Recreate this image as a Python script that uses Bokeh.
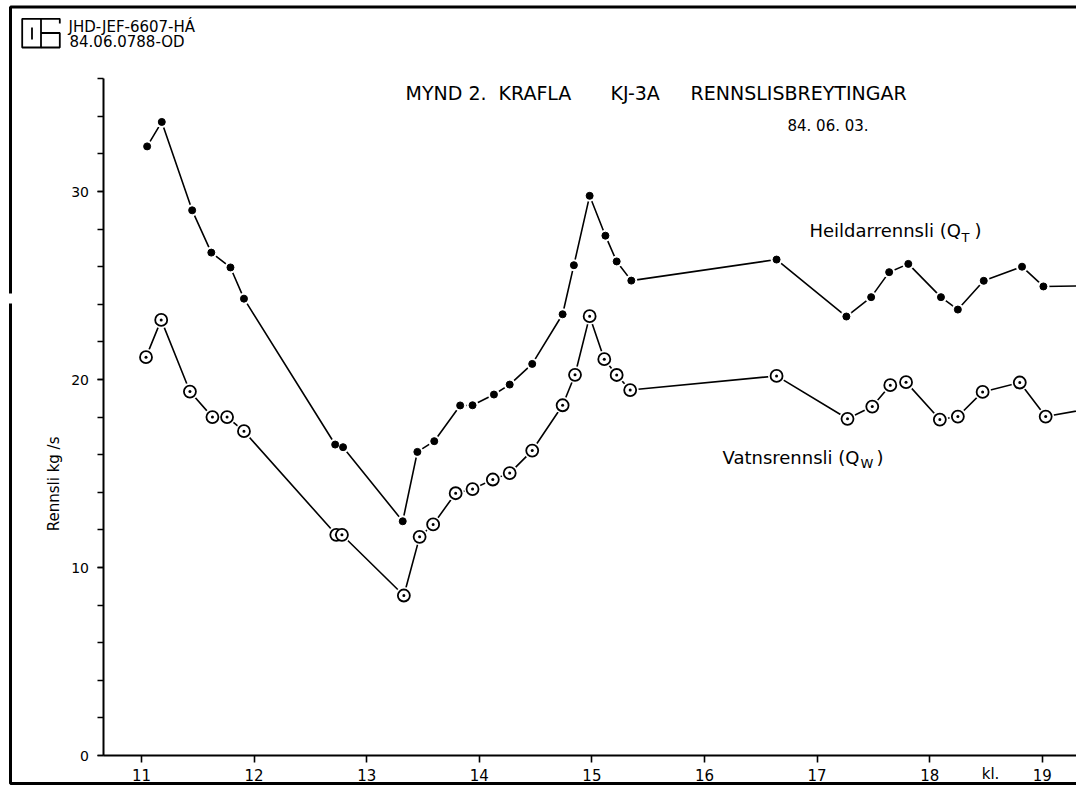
from bokeh.plotting import figure
from bokeh.models import (Range1d, FixedTicker, SingleIntervalTicker, Label,
                          PolyAnnotation, ColumnDataSource)
from bokeh.embed import file_html
from bokeh.resources import INLINE

# ---------------- data ----------------
x_ticks = [11, 12, 13, 14, 15, 16, 17, 18, 19]

hours_total = [11.05, 11.18, 11.45, 11.62, 11.79, 11.91, 12.72, 12.79, 13.32,
               13.45, 13.60, 13.83, 13.94, 14.13, 14.27, 14.47, 14.74, 14.84,
               14.98, 15.12, 15.22, 15.35, 16.64, 17.26, 17.48, 17.64, 17.81,
               18.10, 18.25, 18.48, 18.82, 19.01, 19.60]
flow_total = [32.4, 33.7, 29.0, 26.75, 25.96, 24.3, 16.54, 16.4, 12.46,
              16.15, 16.72, 18.62, 18.63, 19.2, 19.73, 20.83, 23.47, 26.08,
              29.77, 27.65, 26.28, 25.26, 26.38, 23.35, 24.38, 25.71, 26.15,
              24.38, 23.72, 25.25, 26.0, 24.95, 25.0]

hours_water = [11.04, 11.175, 11.43, 11.63, 11.76, 11.91, 12.73, 12.78, 13.33,
               13.47, 13.59, 13.79, 13.94, 14.12, 14.27, 14.47, 14.74, 14.85,
               14.98, 15.11, 15.22, 15.34, 16.64, 17.27, 17.49, 17.65, 17.79,
               18.09, 18.25, 18.47, 18.80, 19.03, 19.60]
flow_water = [21.19, 23.17, 19.36, 18.0, 18.0, 17.25, 11.74, 11.74, 8.51,
              11.63, 12.29, 13.95, 14.17, 14.68, 15.02, 16.22, 18.63, 20.25,
              23.37, 21.08, 20.24, 19.44, 20.19, 17.91, 18.56, 19.7, 19.86,
              17.87, 18.03, 19.34, 19.84, 18.03, 18.64]

FONT = "DejaVu Sans"

# layout: pixel position of the 11 o'clock tick / zero line, and scale
X0_PX, X_PER_H = 141.0, 112.6
Y0_PX, Y_PER_U = 755.0, 18.8


def dx(px):
    return 11 + (px - X0_PX) / X_PER_H


def dy(py):
    return (Y0_PX - py) / Y_PER_U


W, H = 1076, 785
AXIS_X_PX = 102.5

p = figure(width=W, height=H, output_backend="svg", toolbar_location=None,
           x_range=Range1d(dx(0), dx(W)), y_range=Range1d(dy(H), dy(0)),
           min_border=0, min_border_left=0, min_border_right=0,
           min_border_top=0, min_border_bottom=0)
p.grid.visible = False
p.outline_line_color = None
p.background_fill_color = "white"
p.border_fill_color = "white"

# axes, pinned inside the (full-canvas) frame
p.xaxis.fixed_location = 0
p.xaxis.bounds = (dx(AXIS_X_PX), dx(1200))
p.xaxis.ticker = FixedTicker(ticks=x_ticks)
p.xaxis.axis_line_width = 2
p.xaxis.major_tick_out = 7
p.xaxis.major_tick_in = 0
p.xaxis.minor_tick_out = 0
p.xaxis.minor_tick_in = 0
p.xaxis.major_tick_line_width = 1.6
p.xaxis.major_label_standoff = 6
p.xaxis.major_label_text_font = FONT
p.xaxis.major_label_text_font_size = "15px"
p.xaxis.major_label_text_color = "black"

p.yaxis.fixed_location = dx(AXIS_X_PX)
p.yaxis.bounds = (0, 36)
p.yaxis.ticker = SingleIntervalTicker(interval=10, num_minor_ticks=5)
p.yaxis.axis_line_width = 2
p.yaxis.major_tick_out = 6
p.yaxis.major_tick_in = 0
p.yaxis.minor_tick_out = 6
p.yaxis.minor_tick_in = 0
p.yaxis.major_tick_line_width = 1.6
p.yaxis.minor_tick_line_width = 1.6
p.yaxis.major_label_standoff = 8
p.yaxis.major_label_text_font = FONT
p.yaxis.major_label_text_font_size = "14px"
p.yaxis.major_label_text_color = "black"

# ---------------- series ----------------
src_t = ColumnDataSource(dict(x=hours_total, y=flow_total))
src_w = ColumnDataSource(dict(x=hours_water, y=flow_water))

p.line("x", "y", source=src_t, line_color="black", line_width=1.6)
p.line("x", "y", source=src_w, line_color="black", line_width=1.6)
# white halos so the lines stop short of the markers, as in the drawing
p.scatter("x", "y", source=src_t, size=12, fill_color="white", line_color=None)
p.scatter("x", "y", source=src_w, size=17, fill_color="white", line_color=None)
p.scatter("x", "y", source=src_t, size=7, fill_color="black", line_color="black")
p.scatter("x", "y", source=src_w, marker="circle_dot", size=12,
          fill_color="white", line_color="black", line_width=1.8)


# ---------------- annotations ----------------
def add_text(text, px, py, size, align="left", angle=0.0):
    p.add_layout(Label(x=dx(px), y=dy(py), text=text, text_font=FONT,
                       text_font_size=size, text_align=align,
                       text_baseline="middle", text_color="black",
                       angle=angle))


def add_path(pts, width=1.8):
    xs = [dx(a) for a, b in pts]
    ys = [dy(b) for a, b in pts]
    p.add_layout(PolyAnnotation(xs=xs, ys=ys, line_color="black",
                                line_alpha=1.0, line_width=width,
                                fill_color=None, fill_alpha=0))


# title
add_text("MYND 2.", 405, 92, "19px")
add_text("KRAFLA", 498, 92, "19px")
add_text("KJ-3A", 610, 92, "19px")
add_text("RENNSLISBREYTINGAR", 690, 92, "19px")
add_text("84. 06. 03.", 787, 125, "15px")

# series labels
add_text("Heildarrennsli (Q", 809, 230, "18px")
add_text("T", 961, 237, "13px")
add_text(")", 974, 230, "18px")
add_text("Vatnsrennsli (Q", 722, 457, "18px")
add_text("W", 860, 463, "13px")
add_text(")", 876, 457, "18px")

# axis label and unit
add_text("Rennsli  kg /s", 53, 481, "15px", align="center", angle=1.5707963)
add_text("kl.", 990, 773, "15px", align="center")

# drawing header
add_text("JHD-JEF-6607-HÁ", 68, 26, "15px")
add_text("84.06.0788-OD", 69, 41, "15px")
add_path([(21.7, 18.3), (40.5, 18.3), (40.5, 47), (21.7, 47)])
add_path([(31.5, 27), (31.5, 39), (31.5, 27)])
add_path([(40.5, 18.3), (59.3, 18.3), (59.3, 23), (59.3, 18.3)])
add_path([(40.5, 32.5), (59.3, 32.5), (59.3, 47), (40.5, 47), (59.3, 47),
          (59.3, 32.5)])

# sheet border (left, top, bottom)
add_path([(10, 293), (10, 6.5), (1300, 6.5), (10, 6.5)], width=3)
add_path([(10, 303), (10, 783), (1300, 783), (10, 783)], width=3)

open("out.html", "w").write(file_html(p, INLINE))
